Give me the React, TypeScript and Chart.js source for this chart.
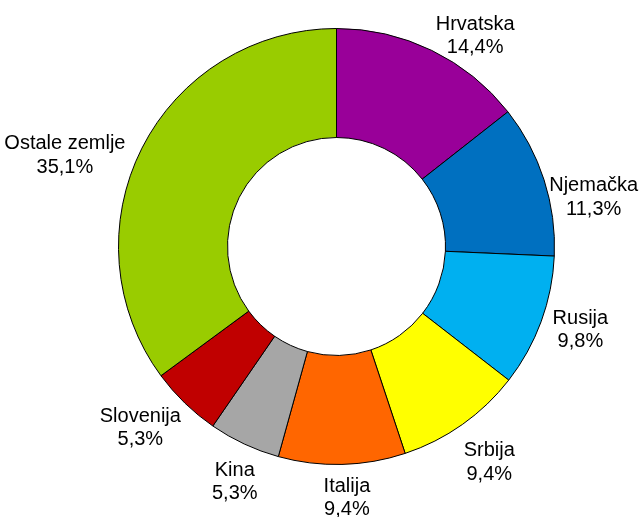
import React, { useEffect, useRef } from "react";
import { Chart, registerables } from "chart.js";

Chart.register(...registerables);

const categories = ["Hrvatska", "Njemačka", "Rusija", "Srbija", "Italija", "Kina", "Slovenija", "Ostale zemlje"];
const shares = [14.4, 11.3, 9.8, 9.4, 9.4, 5.3, 5.3, 35.1];
const shareLabels = ["14,4%", "11,3%", "9,8%", "9,4%", "9,4%", "5,3%", "5,3%", "35,1%"];
const sliceColors = ["#990099", "#0070C0", "#00B0F0", "#FFFF00", "#FF6600", "#A6A6A6", "#C00000", "#99CC00"];
// layout-only nudges for label placement (px)
const labelNudge: [number, number][] = [
  [20, 18], [-6, 27.5], [0, -6], [4, 6], [4, -5.5], [6, 2.5], [-6.5, -3.5], [-10.5, 23],
];

const FONT = '20px "Liberation Sans", Arial, sans-serif';
const LINE_H = 23.5;

const outsideLabels = {
  id: "outsideLabels",
  afterDatasetsDraw(chart: any) {
    const ctx = chart.ctx as CanvasRenderingContext2D;
    const meta = chart.getDatasetMeta(0);
    ctx.save();
    ctx.font = FONT;
    ctx.fillStyle = "#000";
    ctx.textAlign = "center";
    ctx.textBaseline = "alphabetic";
    meta.data.forEach((arc: any, i: number) => {
      const { x, y, startAngle, endAngle, outerRadius } = arc.getProps(
        ["x", "y", "startAngle", "endAngle", "outerRadius"], true
      );
      const mid = (startAngle + endAngle) / 2;
      const ux = Math.cos(mid);
      const uy = Math.sin(mid);
      const l1 = categories[i];
      const l2 = shareLabels[i];
      const w = Math.max(ctx.measureText(l1).width, ctx.measureText(l2).width);
      const h = LINE_H * 2;
      const r = outerRadius + 14;
      const cx = x + r * ux + (w / 2) * ux + labelNudge[i][0];
      const cy = y + r * uy + (h / 2) * uy + labelNudge[i][1];
      const b1 = cy + 7 - LINE_H / 2;
      const b2 = cy + 7 + LINE_H / 2;
      ctx.fillText(l1, cx, b1);
      ctx.fillText(l2, cx, b2);
    });
    ctx.restore();
  },
};

export default function App() {
  const ref = useRef<HTMLCanvasElement | null>(null);
  useEffect(() => {
    if (!ref.current) return;
    const chart = new Chart(ref.current, {
      type: "doughnut",
      data: {
        labels: categories,
        datasets: [
          {
            data: shares,
            backgroundColor: sliceColors,
            borderColor: "#000000",
            borderWidth: 1,
          },
        ],
      },
      options: {
        responsive: false,
        animation: false,
        cutout: "50%",
        layout: { padding: { left: 118, right: 89, top: 28, bottom: 52 } },
        plugins: {
          legend: { display: false },
          tooltip: { enabled: false },
        },
      },
      plugins: [outsideLabels],
    });
    return () => chart.destroy();
  }, []);
  return (
    <div style={{ position: "absolute", left: 0, top: 0, width: 644, height: 517, background: "#fff" }}>
      <canvas ref={ref} width={644} height={517} />
    </div>
  );
}
